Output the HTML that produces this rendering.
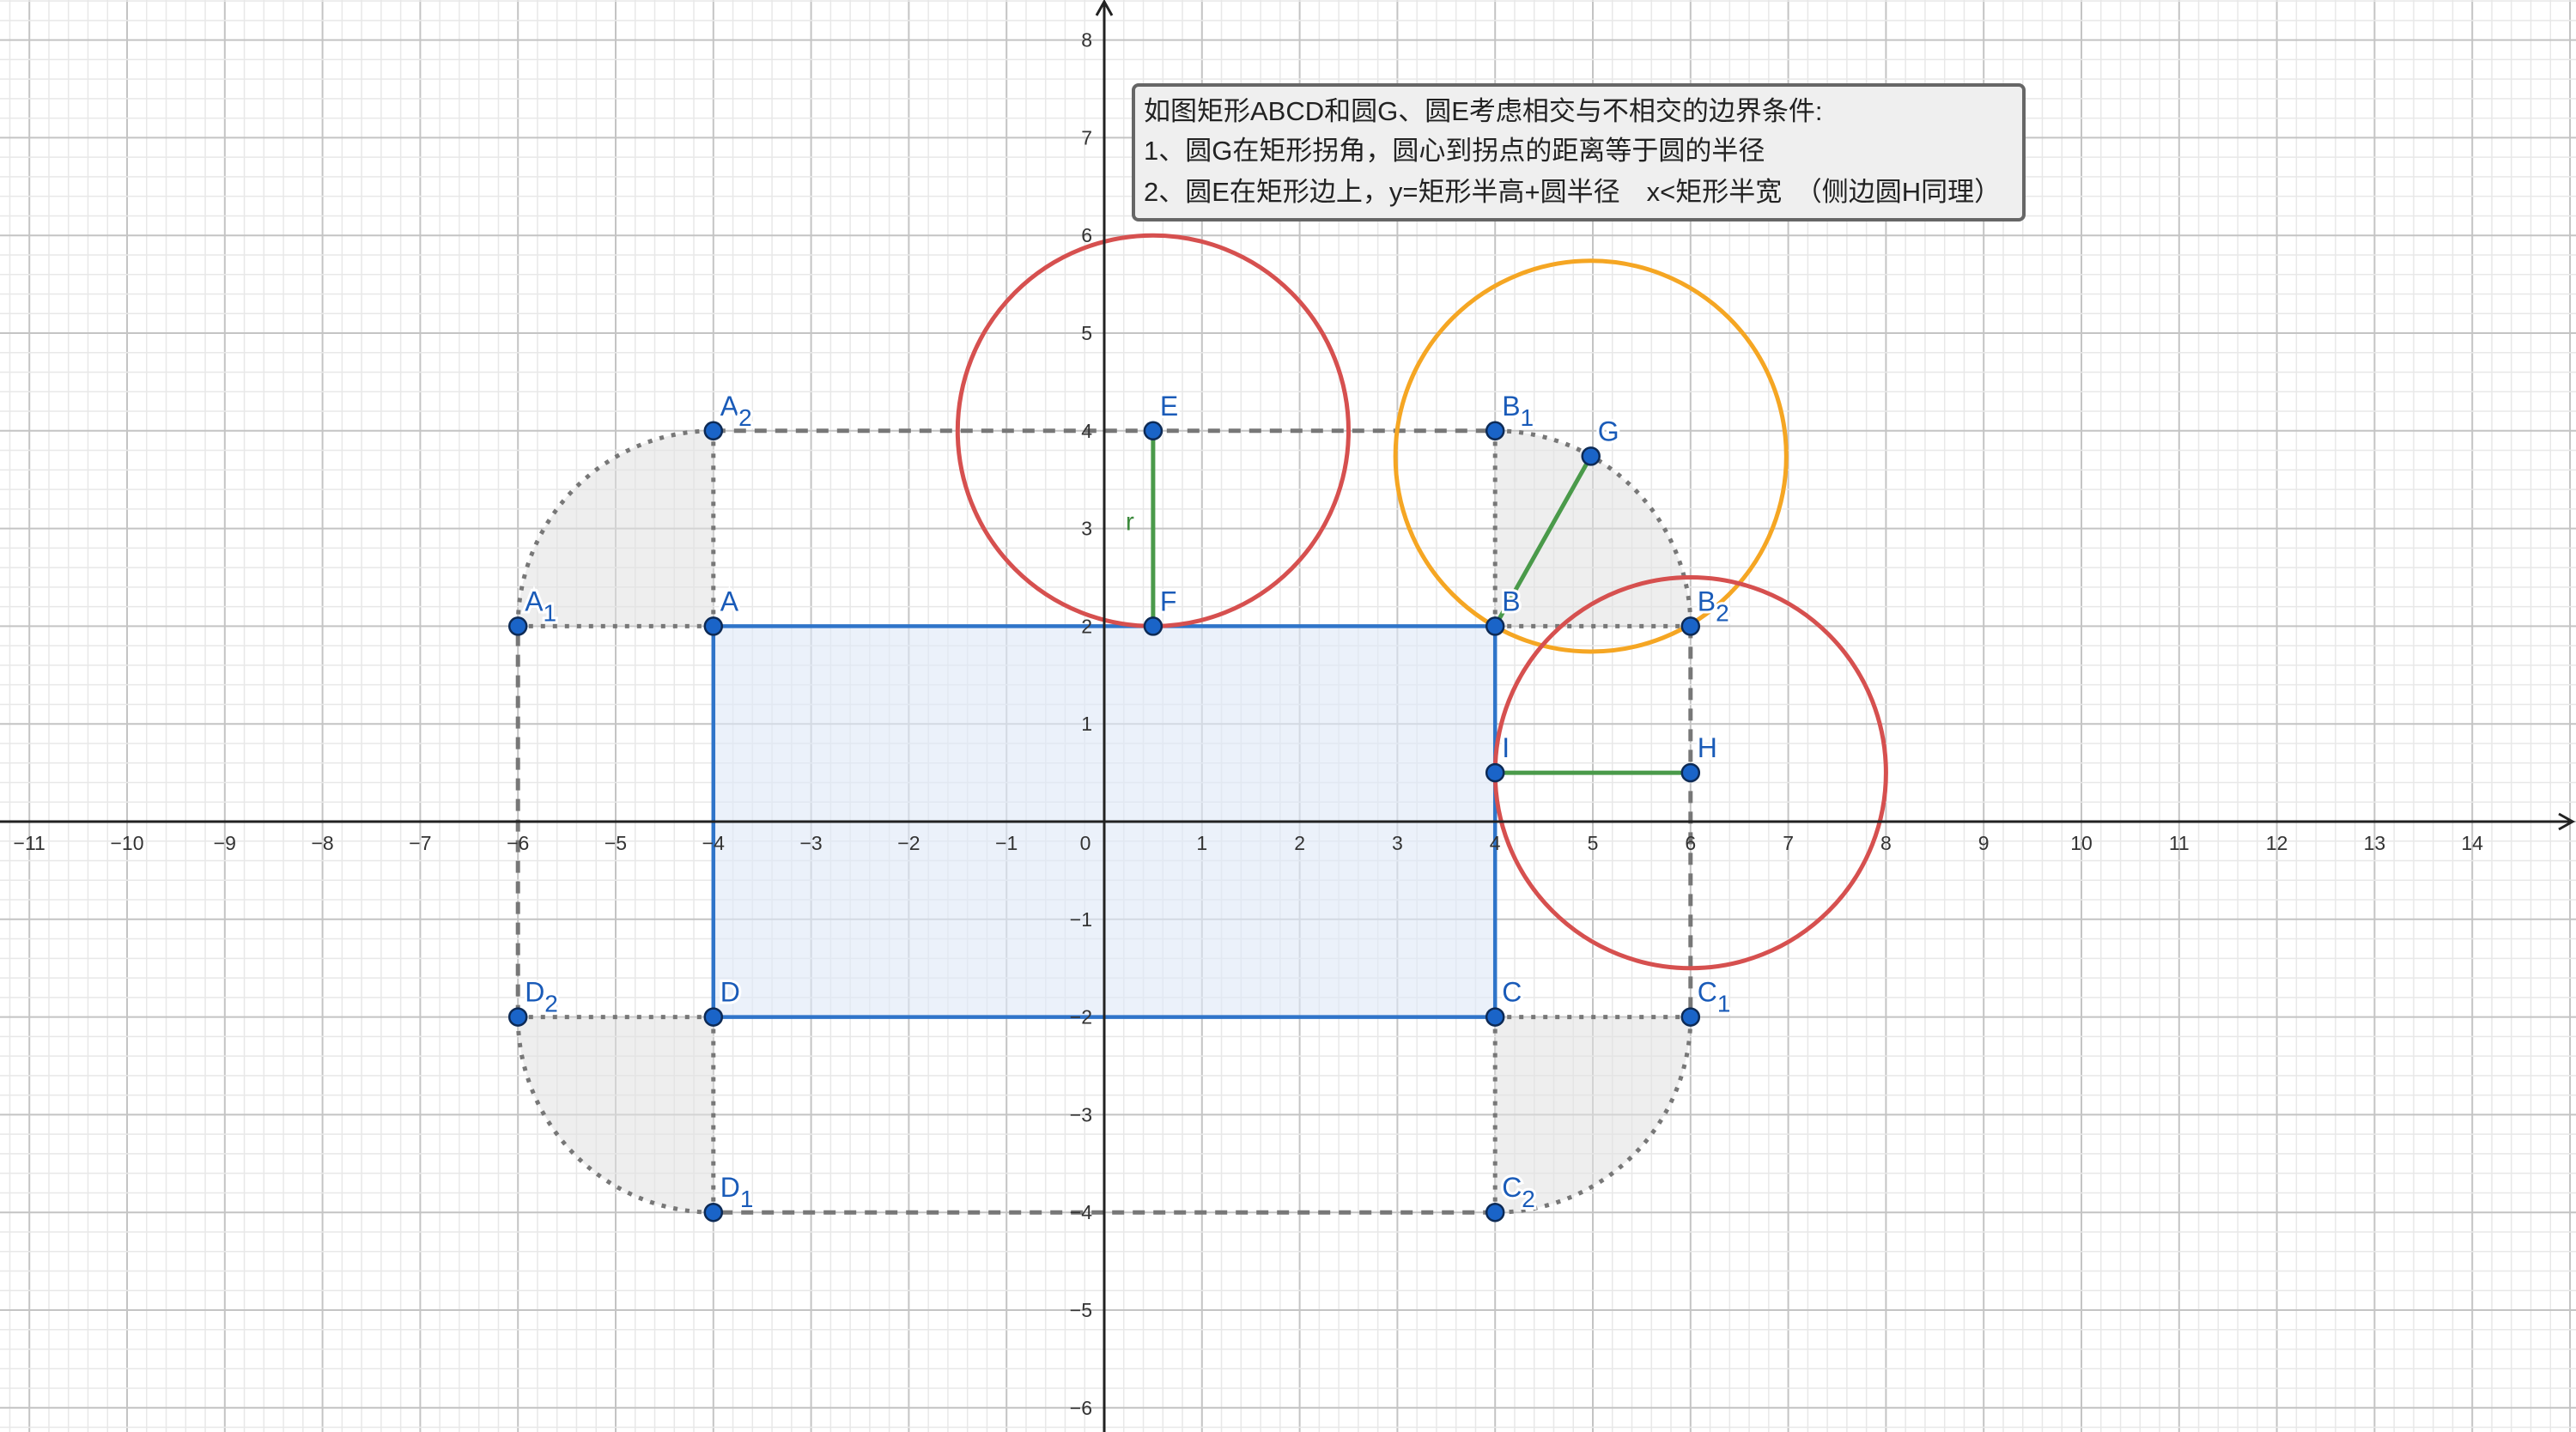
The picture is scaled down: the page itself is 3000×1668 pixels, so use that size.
<!DOCTYPE html>
<html><head><meta charset="utf-8">
<style>
html,body{margin:0;padding:0;background:#fff;}
svg{display:block;}
text{font-family:"Liberation Sans","Noto Sans CJK SC",sans-serif;}
</style></head>
<body>
<svg id="plot" width="3000" height="1668" viewBox="0 0 3000 1668" xmlns="http://www.w3.org/2000/svg">
<g id="grid"></g><g id="shapes"></g><g id="axes"></g><g id="pts"></g>
<g>
<rect x="1320" y="99" width="1037" height="157" rx="6" fill="#efefef" stroke="#666" stroke-width="4"/>
<text x="1332" y="140" font-size="31" fill="#222" style="font-family:'Liberation Sans','Noto Sans CJK SC',sans-serif">如图矩形ABCD和圆G、圆E考虑相交与不相交的边界条件:</text>
<text x="1332" y="186" font-size="31" fill="#222" style="font-family:'Liberation Sans','Noto Sans CJK SC',sans-serif">1、圆G在矩形拐角，圆心到拐点的距离等于圆的半径</text>
<text x="1332" y="234" font-size="31" fill="#222" style="font-family:'Liberation Sans','Noto Sans CJK SC',sans-serif">2、圆E在矩形边上，y=矩形半高+圆半径　x&lt;矩形半宽　（侧边圆H同理）</text>
</g>
</svg>
<script>
const xTicks=[-11,-10,-9,-8,-7,-6,-5,-4,-3,-2,-1,1,2,3,4,5,6,7,8,9,10,11,12,13,14];
const yTicks=[-6,-5,-4,-3,-2,-1,1,2,3,4,5,6,7,8];
const rectX=[-4,4,4,-4];
const rectY=[2,2,-2,-2];
const pointNames=["A","B","C","D","A1","A2","B1","B2","C1","C2","D1","D2","E","F","G","H","I"];
const pointX=[-4,4,4,-4,-6,-4,4,6,6,4,-4,-6,0.5,0.5,4.98,6,4];
const pointY=[2,2,-2,-2,2,4,4,2,-2,-4,-4,-2,4,2,3.74,0.5,0.5];
const circleCX=[0.5,4.98,6];
const circleCY=[4,3.74,0.5];
const circleR=[2,2,2];
const circleColors=["#d6504f","#f5a623","#d6504f"];

const OX=1286, OY=957, U=113.8;
const sx=v=>OX+v*U, sy=v=>OY-v*U;
const NS="http://www.w3.org/2000/svg";
function mk(tag,attrs,parent){const e=document.createElementNS(NS,tag);for(const k in attrs)e.setAttribute(k,attrs[k]);parent.appendChild(e);return e;}
const grid=document.getElementById('grid'),shapes=document.getElementById('shapes'),axes=document.getElementById('axes'),pts=document.getElementById('pts');

for(let i=-60;i<=80;i++){const v=i/5;const x=sx(v);if(x<0||x>3000)continue;const major=i%5===0;
 const l=mk('line',{x1:x,y1:0,x2:x,y2:1668,stroke:major?'#c4c4c4':'#e8e8e8','stroke-width':major?2:1.5},grid);
 
 }
for(let i=-35;i<=45;i++){const v=i/5;const y=sy(v);if(y<0||y>1668)continue;const major=i%5===0;
 const l=mk('line',{x1:0,y1:y,x2:3000,y2:y,stroke:major?'#c4c4c4':'#e8e8e8','stroke-width':major?2:1.5},grid);
 
 }

const corners=[[0,4,5,180,90],[1,6,7,90,0],[2,8,9,0,-90],[3,10,11,-90,-180]];
corners.forEach(c=>{const cx=pointX[c[0]],cy=pointY[c[0]];const r=2;
 const a1=c[3]*Math.PI/180,a2=c[4]*Math.PI/180;
 const p1=[sx(cx+r*Math.cos(a1)),sy(cy+r*Math.sin(a1))],p2=[sx(cx+r*Math.cos(a2)),sy(cy+r*Math.sin(a2))];
 const s=mk('path',{d:`M${sx(cx)},${sy(cy)} L${p1[0]},${p1[1]} A${r*U},${r*U} 0 0 1 ${p2[0]},${p2[1]} Z`,fill:'#e0e0e0','fill-opacity':0.55,stroke:'none'},shapes);
 
 
 const a=mk('path',{d:`M${p1[0]},${p1[1]} A${r*U},${r*U} 0 0 1 ${p2[0]},${p2[1]}`,fill:'none',stroke:'#777','stroke-width':5,'stroke-dasharray':'5 9'},shapes);
 
 
 [c[1],c[2]].forEach(j=>{const l=mk('line',{x1:sx(cx),y1:sy(cy),x2:sx(pointX[j]),y2:sy(pointY[j]),stroke:'#777','stroke-width':5,'stroke-dasharray':'5 9'},shapes);
  
  });
});
[[5,6],[7,8],[9,10],[11,4]].forEach(p=>{const l=mk('line',{x1:sx(pointX[p[0]]),y1:sy(pointY[p[0]]),x2:sx(pointX[p[1]]),y2:sy(pointY[p[1]]),stroke:'#777','stroke-width':5,'stroke-dasharray':'14 10'},shapes);
 
 });

const rp=rectX.map((x,i)=>sx(x)+','+sy(rectY[i])).join(' ');
const rect=mk('polygon',{points:rp,fill:'#dde7f7','fill-opacity':0.6,stroke:'#2f74c9','stroke-width':4.5},shapes);



const cnames=['circle-e','circle-g','circle-h'];
circleCX.forEach((cx,i)=>{const c=mk('circle',{cx:sx(cx),cy:sy(circleCY[i]),r:circleR[i]*U,fill:'none',stroke:circleColors[i],'stroke-width':5},shapes);
 
 });

[[12,13],[1,14],[16,15]].forEach(p=>{const l=mk('line',{x1:sx(pointX[p[0]]),y1:sy(pointY[p[0]]),x2:sx(pointX[p[1]]),y2:sy(pointY[p[1]]),stroke:'#4a9a4a','stroke-width':5},shapes);
 
 });
const rt=mk('text',{x:sx(0.5)-32,y:sy(3)+2,'font-size':30,fill:'#3d8a3d'},shapes);rt.textContent='r';



const xa=mk('line',{x1:0,y1:OY,x2:2994,y2:OY,stroke:'#222','stroke-width':3},axes);


const xar=mk('path',{d:`M2980,${OY-9} L2996,${OY} L2980,${OY+9}`,fill:'none',stroke:'#222','stroke-width':3},axes);


const ya=mk('line',{x1:OX,y1:4,x2:OX,y2:1668,stroke:'#222','stroke-width':3},axes);


const yar=mk('path',{d:`M${OX-9},18 L${OX},2 L${OX+9},18`,fill:'none',stroke:'#222','stroke-width':3},axes);


const fmt=v=>v<0?'\u2212'+(-v):String(v);
xTicks.forEach(v=>{const t=mk('text',{x:sx(v),y:OY+33,'font-size':23,fill:'#333','text-anchor':'middle'},axes);t.textContent=fmt(v);
 
 });
const z=mk('text',{x:OX-22,y:OY+33,'font-size':23,fill:'#333','text-anchor':'middle'},axes);z.textContent='0';


yTicks.forEach(v=>{const t=mk('text',{x:OX-14,y:sy(v)+8,'font-size':23,fill:'#333','text-anchor':'end'},axes);t.textContent=fmt(v);
 
 });

pointNames.forEach((n,i)=>{const x=sx(pointX[i]),y=sy(pointY[i]);
 const c=mk('circle',{cx:x,cy:y,r:10,fill:'#1a64c8',stroke:'#0d2a55','stroke-width':2.5},pts);
 
 
 const t=mk('text',{x:x+8,y:y-18,'font-size':32,fill:'#1a5bb8',stroke:'#fff','stroke-width':6,'paint-order':'stroke'},pts);
 
 
 const base=n[0],sub=n.slice(1);
 const ts=mk('tspan',{},t);ts.textContent=base;
 if(sub){const s=mk('tspan',{dy:12,'font-size':28},t);s.textContent=sub;}
});
</script>
</body></html>
